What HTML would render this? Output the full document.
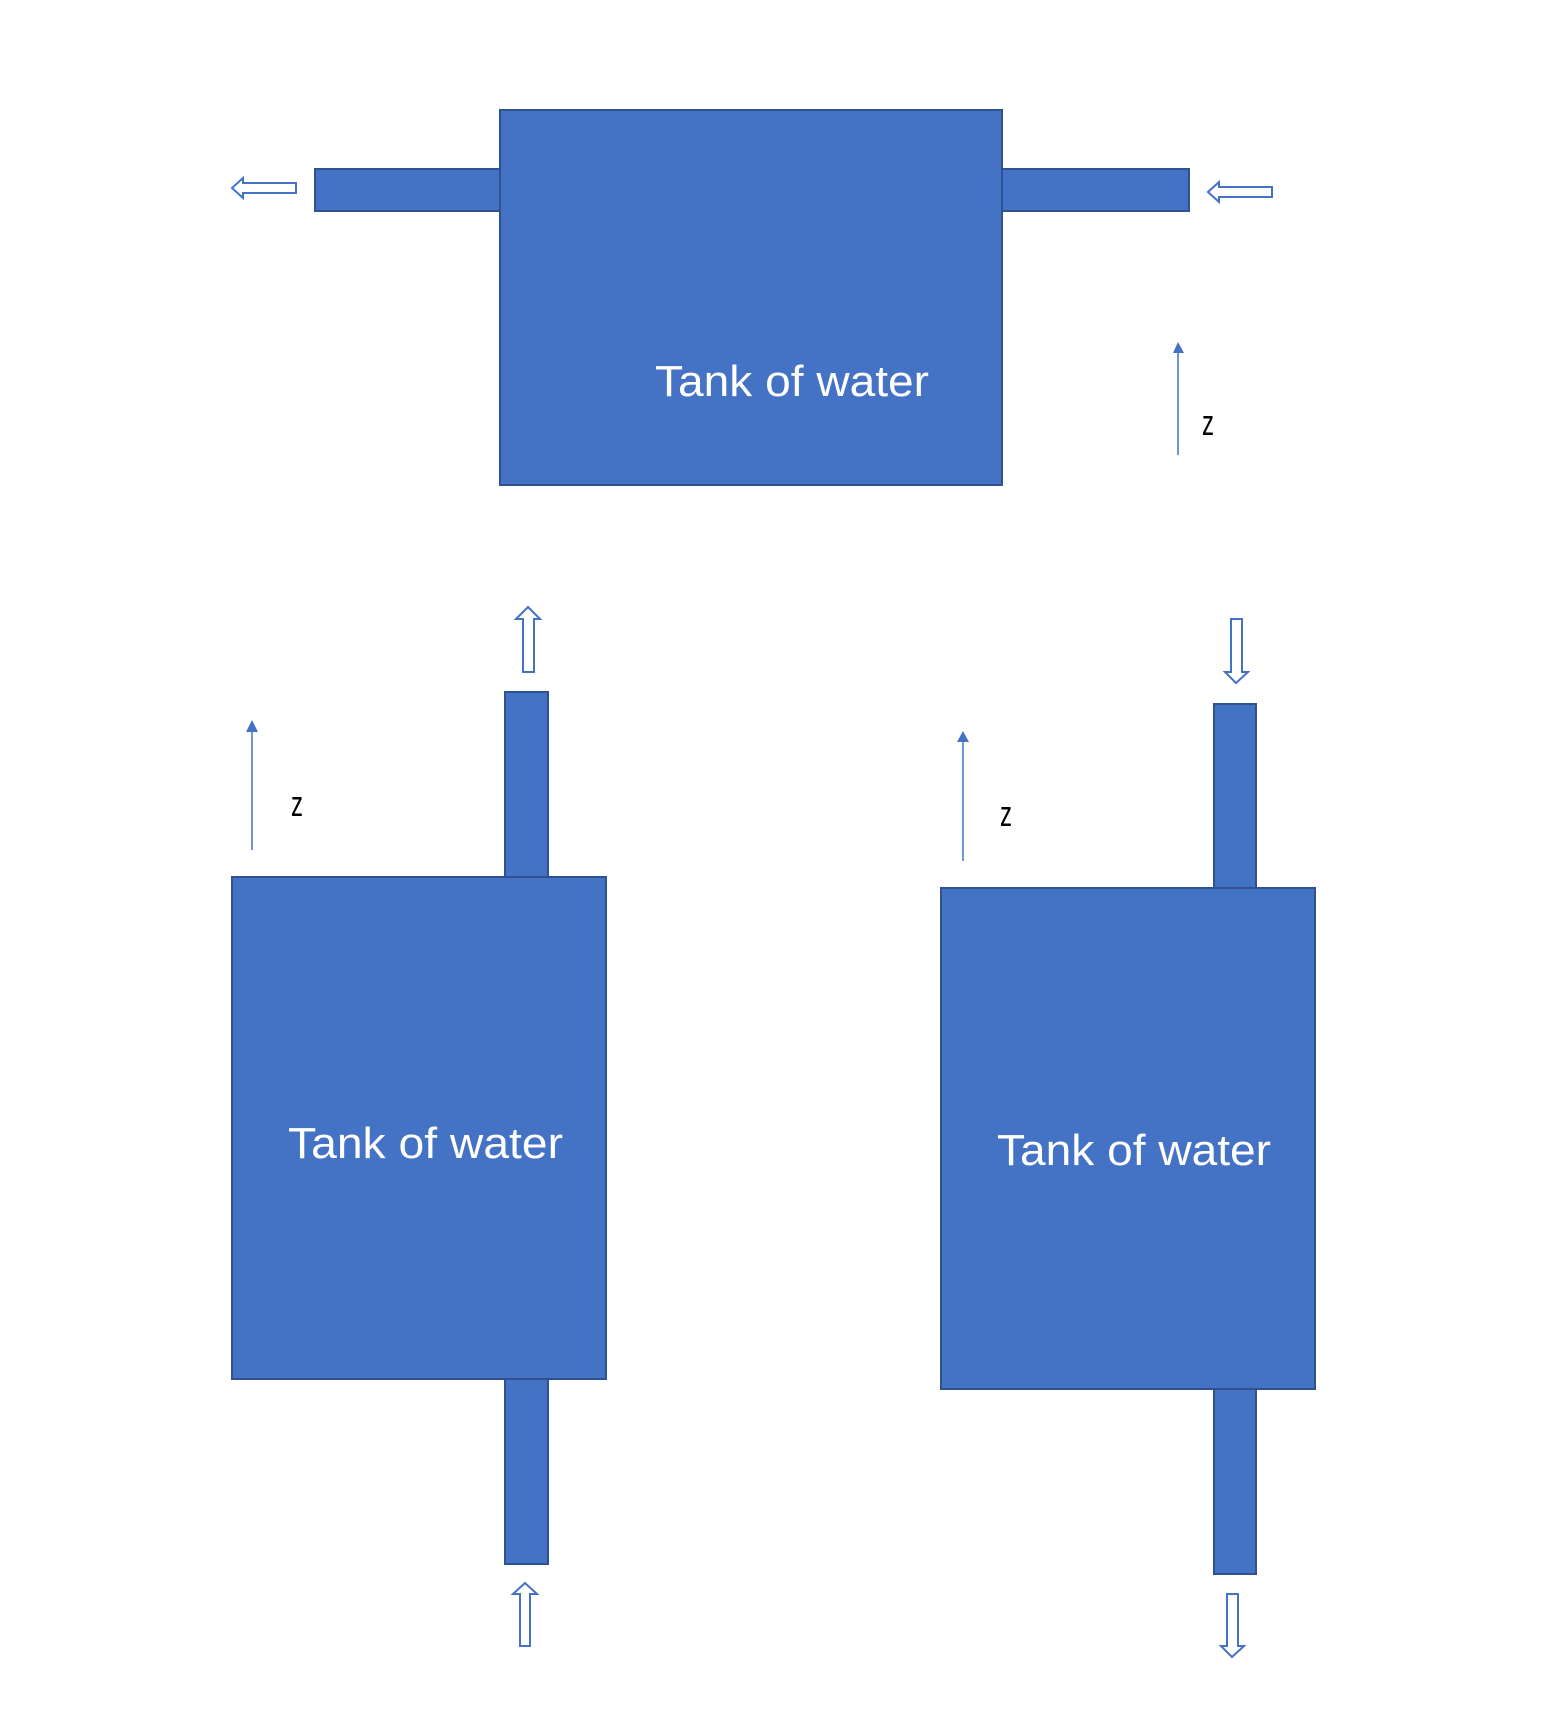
<!DOCTYPE html>
<html><head><meta charset="utf-8"><style>html,body{margin:0;padding:0;background:#fff}svg{display:block}</style></head>
<body>
<svg width="1546" height="1716" viewBox="0 0 1546 1716" xmlns="http://www.w3.org/2000/svg">
<g fill="#4472c4" stroke="#2f528f" stroke-width="2">
  <rect x="315" y="169" width="186" height="42"/>
  <rect x="1002" y="169" width="187" height="42"/>
  <rect x="500" y="110" width="502" height="375"/>
  <rect x="505" y="692" width="43" height="186"/>
  <rect x="505" y="1379" width="43" height="185"/>
  <rect x="232" y="877" width="374" height="502"/>
  <rect x="1214" y="704" width="42" height="185"/>
  <rect x="1214" y="1389" width="42" height="185"/>
  <rect x="941" y="888" width="374" height="501"/>
</g>
<g fill="#fff" stroke="#4472c4" stroke-width="2" stroke-linejoin="miter">
  <polygon points="232,188 243,178 243,183 296,183 296,193 243,193 243,198"/>
  <polygon points="1208,192 1219,182 1219,187 1272,187 1272,197 1219,197 1219,202"/>
  <polygon points="528,607 540,619 534,619 534,672 523,672 523,619 516,619"/>
  <polygon points="525,1583 537,1594 530,1594 530,1646 520,1646 520,1594 513,1594"/>
  <polygon points="1231,619 1242,619 1242,672 1248,672 1236,683 1225,672 1231,672"/>
  <polygon points="1227,1594 1238,1594 1238,1646 1244,1646 1232,1657 1221,1646 1227,1646"/>
</g>
<g stroke="#4472c4" stroke-width="1.5" fill="#4472c4">
  <line x1="1178" y1="352" x2="1178" y2="455"/>
  <polygon points="1178,342 1173,353 1184,353" stroke="none"/>
  <line x1="252" y1="731" x2="252" y2="850"/>
  <polygon points="252,720 246,732 258,732" stroke="none"/>
  <line x1="963" y1="741" x2="963" y2="861"/>
  <polygon points="963,731 957,742 969,742" stroke="none"/>
</g>
<g font-family="Liberation Sans, sans-serif" fill="#fff" font-size="44">
  <text x="655" y="396" textLength="274" lengthAdjust="spacingAndGlyphs">Tank of water</text>
  <text x="288" y="1158" textLength="275" lengthAdjust="spacingAndGlyphs">Tank of water</text>
  <text x="997" y="1165" textLength="274" lengthAdjust="spacingAndGlyphs">Tank of water</text>
</g>
<g font-family="Liberation Sans, sans-serif" fill="#000" font-size="36">
  <text x="1202" y="435" textLength="12" lengthAdjust="spacingAndGlyphs">z</text>
  <text x="291" y="816" textLength="12" lengthAdjust="spacingAndGlyphs">z</text>
  <text x="1000" y="826" textLength="12" lengthAdjust="spacingAndGlyphs">z</text>
</g>
</svg>
</body></html>
